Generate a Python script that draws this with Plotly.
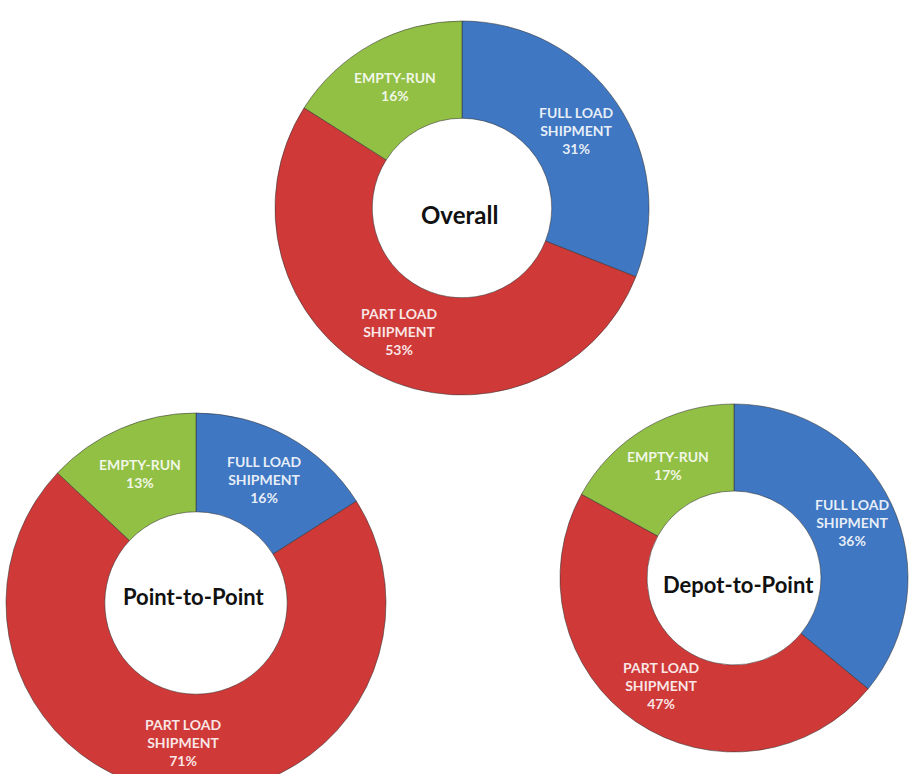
import math
import plotly.graph_objects as go

# Shipment mix by trip type
categories = ["FULL LOAD<br>SHIPMENT", "PART LOAD<br>SHIPMENT", "EMPTY-RUN"]
overall = [31, 53, 16]
point_to_point = [16, 71, 13]
depot_to_point = [36, 47, 17]
panel_titles = ["Overall", "Point-to-Point", "Depot-to-Point"]

colors = ["#3F77C3", "#CF3A39", "#92C045"]

W, H = 909, 812


def px_domain(cx, cy, r):
    """Convert a pixel centre/radius into paper-domain fractions."""
    return dict(
        x=[max(0.0, (cx - r) / W), min(1.0, (cx + r) / W)],
        y=[max(0.0, 1 - (cy + r) / H), min(1.0, 1 - (cy - r) / H)],
    )


# (values, pie centre x, centre y, radius, hole, title position, title size)
panels = [
    (overall, 462, 208, 187, 0.48, (459, 214), 24),
    (point_to_point, 196, 603, 190, 0.48, (193, 596), 22),
    (depot_to_point, 734, 578, 174, 0.50, (738, 584), 22),
]

label_font = dict(family="Lato", size=14, color="rgba(255,255,255,0.88)", weight="bold")

fig = go.Figure()
for (values, cx, cy, r, hole, (tx, ty), tsize), title in zip(panels, panel_titles):
    fig.add_trace(go.Pie(
        labels=categories,
        values=values,
        domain=px_domain(cx, cy, r),
        hole=hole,
        sort=False,
        direction="clockwise",
        rotation=0,
        marker=dict(colors=colors, line=dict(color="rgba(50,50,50,0.55)", width=1)),
        textinfo="none",
        showlegend=False,
        hoverinfo="label+value",
        name=title,
    ))

    # slice labels, centred in the ring on each slice's bisector
    total = sum(values)
    cum = 0
    ring_r = r * (1 + hole) / 2
    for lab, v in zip(categories, values):
        mid = (cum + v / 2) / total * 2 * math.pi
        cum += v
        lx = cx + ring_r * math.sin(mid)
        ly = cy - ring_r * math.cos(mid)
        fig.add_annotation(
            x=lx / W, y=1 - ly / H, xref="paper", yref="paper",
            xanchor="center", yanchor="middle",
            text=f"{lab}<br>{v}%", showarrow=False, font=label_font,
        )

    fig.add_annotation(
        x=tx / W, y=1 - ty / H,
        xref="paper", yref="paper",
        xanchor="center", yanchor="middle",
        text=f"<b>{title}</b>",
        showarrow=False,
        font=dict(family="Lato", size=tsize, color="#111111"),
    )

fig.update_layout(
    width=W, height=H,
    margin=dict(l=0, r=0, t=0, b=0),
    paper_bgcolor="white",
    plot_bgcolor="white",
)

fig.write_html(
    "out.html",
    post_script="document.documentElement.style.overflow='hidden';"
                "document.body.style.overflow='hidden';document.body.style.margin='0';",
)
